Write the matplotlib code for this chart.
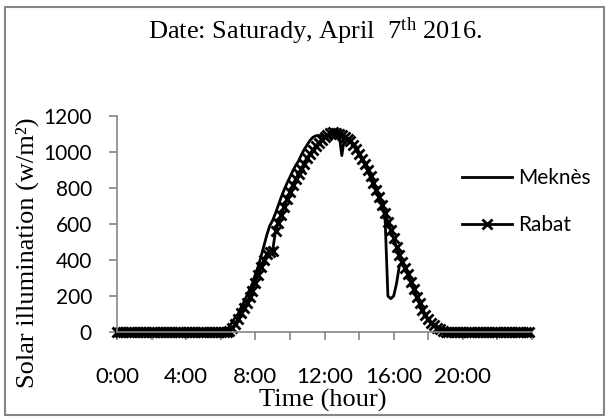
import numpy as np
import matplotlib
matplotlib.use("Agg")
import matplotlib.pyplot as plt
from matplotlib.patches import Rectangle

# ---- data (10-minute samples, 0:00 .. 23:50) ----
hours = [i / 6 for i in range(144)]

rabat_day = [  # 6:00 .. 19:00 every 10 min
    0, 0, 0, 5, 20, 45,
    70, 105, 135, 160, 195, 230,
    270, 315, 360, 400, 435, 447,
    452, 560, 605, 650, 695, 740,
    780, 815, 850, 880, 908, 935,
    965, 990, 1012, 1035, 1052, 1068,
    1085, 1096, 1104, 1110, 1107, 1102,
    1095, 1085, 1073, 1060, 1040, 1018,
    990, 963, 935, 900, 867, 830,
    790, 750, 707, 660, 613, 567,
    520, 473, 430, 390, 357, 320,
    280, 237, 195, 160, 125, 95,
    70, 52, 38, 25, 15, 5,
    0]
meknes_day = [  # 6:00 .. 19:00 every 10 min
    0, 0, 10, 30, 55, 80,
    100, 135, 165, 200, 235, 270,
    320, 365, 420, 480, 540, 590,
    620, 660, 705, 750, 790, 827,
    860, 895, 925, 950, 985, 1015,
    1040, 1065, 1082, 1090, 1092, 1088,
    1085, 1095, 1108, 1120, 1115, 1110,
    980, 1085, 1075, 1060, 1048, 1030,
    995, 965, 932, 895, 858, 823,
    790, 745, 700, 640, 200, 185,
    200, 270, 370, 390, 350, 315,
    272, 230, 190, 155, 120, 90,
    65, 48, 32, 20, 10, 3,
    0]

start = 36  # index of 6:00
rabat = [0] * start + rabat_day + [0] * (144 - start - len(rabat_day))
meknes = [0] * start + meknes_day + [0] * (144 - start - len(meknes_day))

xtick_pos = list(range(0, 25, 2))
xtick_labels = ["0:00", "", "4:00", "", "8:00", "", "12:00", "", "16:00", "", "20:00", "", ""]
yticks = [0, 200, 400, 600, 800, 1000, 1200]

plt.rcParams['mathtext.fontset'] = 'custom'
plt.rcParams['mathtext.rm'] = 'Liberation Serif'
plt.rcParams['mathtext.it'] = 'Liberation Serif:italic'

W, H = 608, 419
fig = plt.figure(figsize=(W / 100, H / 100), dpi=100)
ax = fig.add_axes([117 / W, 1 - 332 / H, (532 - 117) / W, (332 - 116) / H])

ax.plot(hours, meknes, color='black', lw=2.0, label='Meknès', clip_on=False)
ax.plot(hours, rabat, color='black', lw=2.0, marker='x', ms=6.5, mew=2.0,
        label='Rabat', clip_on=False)

ax.set_xlim(0, 24)
ax.set_ylim(0, 1200)
ax.set_xticks(xtick_pos)
ax.set_xticklabels(xtick_labels)
ax.set_yticks(yticks)

gray = '#868686'
for s in ['top', 'right']:
    ax.spines[s].set_visible(False)
for s in ['left', 'bottom']:
    ax.spines[s].set_color(gray)
    ax.spines[s].set_linewidth(1.2)
ax.tick_params(axis='both', colors=gray, length=6, width=1.2, direction='out')
ax.tick_params(axis='x', pad=19, labelcolor='black')
ax.tick_params(axis='y', pad=12, labelcolor='black')
for lab in ax.get_xticklabels():
    lab.set_fontfamily('Lato')
    lab.set_fontsize(16)
for lab in ax.get_yticklabels():
    lab.set_fontfamily('Lato')
    lab.set_fontsize(15)

leg = ax.legend(loc='upper left', bbox_to_anchor=(462 / W, 1 - 168 / H),
                bbox_transform=fig.transFigure, frameon=False, borderpad=0,
                borderaxespad=0, handlelength=2.4, handletextpad=0.3,
                labelspacing=1.3, prop={'family': 'Lato', 'size': 15})

serif = 'Liberation Serif'
fig.text(315 / W, 1 - 39 / H, r'Date: Saturady, April  7$^{\mathrm{th}}$ 2016.',
         ha='center', va='baseline', fontsize=19, family=serif)
fig.text(27 / W, 1 - 253 / H, 'Solar illumination (w/m²)', rotation=90,
         ha='center', va='center', fontsize=19, family=serif)
fig.text(323 / W, 1 - 400 / H, 'Time (hour)', ha='center', va='center',
         fontsize=19, family=serif)

fig.patches.append(Rectangle((5 / W, 4 / H), 599 / W, 408 / H, transform=fig.transFigure,
                             fill=False, edgecolor=gray, linewidth=1.5))

fig.savefig('out.png', dpi=100)
